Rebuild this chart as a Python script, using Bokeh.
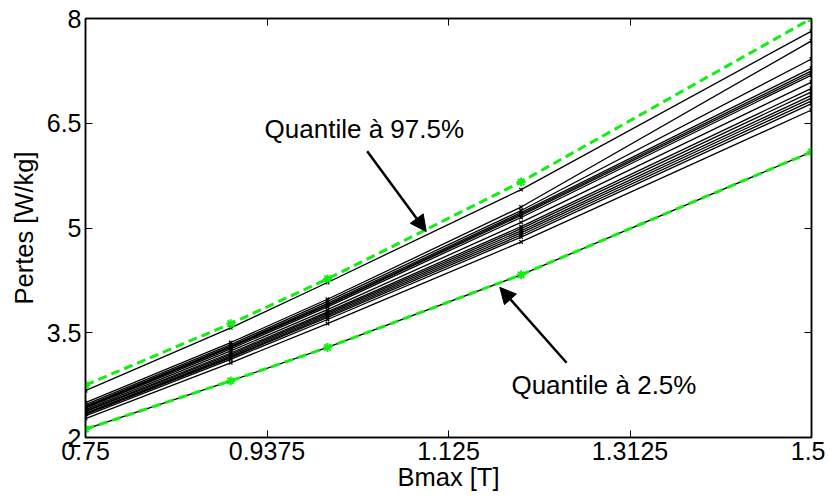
from bokeh.plotting import figure
from bokeh.models import (Range1d, FixedTicker, LinearAxis, Arrow, NormalHead, Label,
                          CustomLabelingPolicy)
from bokeh.embed import file_html
from bokeh.resources import INLINE

# ---- data ----
bmax = [0.75, 0.9, 1.0, 1.2, 1.5]

samples = [
    [2.67, 3.57, 4.22, 5.55, 7.82],
    [2.50, 3.36, 3.98, 5.30, 7.68],
    [2.47, 3.33, 3.95, 5.25, 7.42],
    [2.45, 3.31, 3.92, 5.22, 7.29],
    [2.44, 3.30, 3.90, 5.20, 7.25],
    [2.43, 3.29, 3.89, 5.18, 7.22],
    [2.42, 3.27, 3.87, 5.15, 7.19],
    [2.40, 3.24, 3.83, 5.08, 7.09],
    [2.38, 3.21, 3.80, 5.02, 7.00],
    [2.37, 3.19, 3.78, 4.99, 6.95],
    [2.35, 3.17, 3.76, 4.96, 6.90],
    [2.34, 3.15, 3.74, 4.93, 6.86],
    [2.33, 3.14, 3.72, 4.90, 6.82],
    [2.31, 3.12, 3.69, 4.87, 6.78],
    [2.27, 3.07, 3.63, 4.80, 6.69],
    [2.12, 2.81, 3.29, 4.33, 6.09],
]

q975 = [2.75, 3.63, 4.27, 5.66, 8.00]
q025 = [2.12, 2.81, 3.29, 4.33, 6.09]

x_ticks = [0.75, 0.9375, 1.125, 1.3125, 1.5]
x_tick_labels = ["0.75", "0.9375", "1.125", "1.3125", "1.5"]
y_ticks = [2, 3.5, 5, 6.5, 8]
y_tick_labels = ["2", "3.5", "5", "6.5", "8"]

label_hi = "Quantile à 97.5%"
label_lo = "Quantile à 2.5%"
label_hi_pos = (0.935, 6.42)
label_lo_pos = (1.19, 2.75)
arrow_hi = (1.041, 6.10, 1.102, 4.95)
arrow_lo = (1.247, 3.07, 1.178, 4.15)

FONT = "Liberation Sans"
GREEN = "#11ee11"

p = figure(width=825, height=493, output_backend="svg", toolbar_location=None,
           x_range=Range1d(0.75, 1.5), y_range=Range1d(2, 8),
           min_border_left=85, min_border_right=14, min_border_top=18, min_border_bottom=56)

p.background_fill_color = "white"
p.border_fill_color = "white"
p.outline_line_color = "black"
p.outline_line_width = 1.5
p.xgrid.visible = False
p.ygrid.visible = False

hide_all = CustomLabelingPolicy(code="""
const out = indices.clone();
if (typeof out.clear === "function") { out.clear(); }
else { for (const i of indices) { out.unset(i); } }
return out;
""")

def style_axis(ax, ticks, labels, show_labels=True):
    ax.ticker = FixedTicker(ticks=ticks)
    ax.major_label_overrides = {t: l for t, l in zip(ticks, labels)}
    ax.major_tick_in = 7
    ax.major_tick_out = 0
    ax.minor_tick_line_color = None
    ax.axis_line_color = "black"
    ax.axis_line_width = 1.5
    ax.major_tick_line_color = "black"
    ax.major_label_text_font = FONT
    ax.major_label_text_color = "black"
    if show_labels:
        ax.major_label_text_font_size = "25px"
    else:
        ax.major_label_text_font_size = "1px"
        ax.major_label_policy = hide_all
        ax.major_label_standoff = 0

style_axis(p.xaxis[0], x_ticks, x_tick_labels)
style_axis(p.yaxis[0], y_ticks, y_tick_labels)
p.xaxis[0].major_label_standoff = 4
p.yaxis[0].major_label_standoff = 4

p.xaxis[0].axis_label = "Bmax [T]"
p.yaxis[0].axis_label = "Pertes [W/kg]"
for ax in (p.xaxis[0], p.yaxis[0]):
    ax.axis_label_text_font = FONT
    ax.axis_label_text_font_size = "25.5px"
    ax.axis_label_text_font_style = "normal"
    ax.axis_label_text_color = "black"
p.xaxis[0].axis_label_standoff = 0
p.yaxis[0].axis_label_standoff = 6

top_ax = LinearAxis()
style_axis(top_ax, x_ticks, x_tick_labels, show_labels=False)
p.add_layout(top_ax, "above")
right_ax = LinearAxis()
style_axis(right_ax, y_ticks, y_tick_labels, show_labels=False)
p.add_layout(right_ax, "right")

for s in samples:
    p.line(bmax, s, line_color="black", line_width=1.3)
    p.scatter(bmax, s, marker="x", size=5, line_color="black", line_width=1.2)

for q in (q975, q025):
    p.line(bmax, q, line_color=GREEN, line_width=3, line_dash="9 5")
    p.scatter(bmax, q, marker="asterisk", size=9, line_color=GREEN, line_width=2)

for (x0, y0, x1, y1) in (arrow_hi, arrow_lo):
    p.add_layout(Arrow(x_start=x0, y_start=y0, x_end=x1, y_end=y1,
                       line_color="black", line_width=2.5,
                       end=NormalHead(size=16, fill_color="black", line_color="black")))

for txt, (tx, ty) in ((label_hi, label_hi_pos), (label_lo, label_lo_pos)):
    p.add_layout(Label(x=tx, y=ty, text=txt, text_font=FONT, text_font_size="26px",
                       text_color="black", text_baseline="middle", text_align="left"))

open("out.html", "w").write(file_html(p, INLINE))
